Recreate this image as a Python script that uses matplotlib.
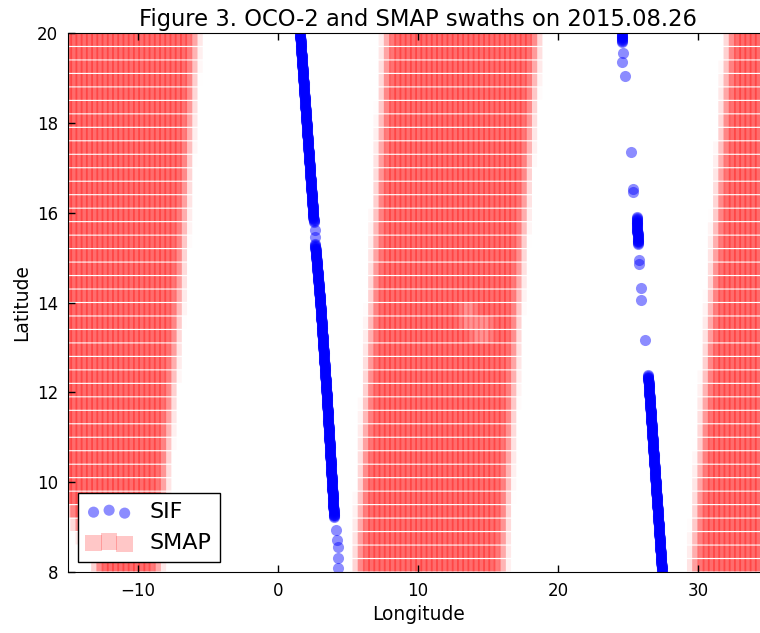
import numpy as np
import matplotlib
matplotlib.use('Agg')
import matplotlib.pyplot as plt

# SMAP cells sit on a 36 km EASE grid (deg spacing)
SMAP_DLON = 0.3733
SMAP_DLAT = 0.30
EDGE_FADE = 0.7   # soft swath border, deg

# swath edges (cell centres), at the given latitudes
swath1_lat = [8.0, 10.6, 14.0, 20.0]
swath1_west = [-12.3, -16.5, -17.0, -17.0]
swath1_east = [-9.0, -8.4, -7.5, -6.3]

swath2_lat = [8.0, 14.0, 20.0]
swath2_west = [6.1, 7.2, 8.2]
swath2_east = [15.6, 16.7, 18.1]

swath3_lat = [8.0, 20.0]
swath3_west = [30.1, 32.7]
swath3_east = [45.0, 45.0]

# thinner patch inside swath 2 (lon0, lon1, lat0, lat1)
smap_thin = [(12.9, 14.3, 13.3, 14.1), (13.7, 15.2, 13.1, 13.6)]

# OCO-2 SIF: dense stretches of soundings (lon0, lat0, lon1, lat1)
sif_segments = [
    (1.57, 20.0, 2.55, 15.8),
    (2.65, 15.3, 3.00, 14.06),
    (3.00, 14.06, 3.50, 11.83),
    (3.50, 11.83, 4.00, 9.22),
    (24.55, 20.0, 24.58, 19.8),
    (25.62, 15.9, 25.72, 15.3),
    (26.43, 12.39, 27.43, 8.0),
]
# single soundings
sif_lon = [2.62, 2.65, 4.12, 4.20, 4.25, 4.28, 4.30,
           24.64, 24.60, 24.79, 25.21, 25.36, 25.38, 25.80, 25.82, 25.93, 25.93, 26.21]
sif_lat = [15.62, 15.45, 8.93, 8.72, 8.56, 8.31, 8.10,
           19.55, 19.35, 19.04, 17.35, 16.52, 16.45, 14.95, 14.85, 14.32, 14.06, 13.17]


def swath_cells(lats, west, east):
    rows = np.arange(7.85, 20.3, SMAP_DLAT)
    cols = np.arange(-20.0, 46.0, SMAP_DLON)
    xs, ys, ws = [], [], []
    for lat in rows:
        w = np.interp(lat, lats, west)
        e = np.interp(lat, lats, east)
        for lon in cols:
            inside = min(lon - w, e - lon)
            if inside < -EDGE_FADE:
                continue
            weight = min(1.0, 1.0 + inside / EDGE_FADE)
            for (a, b, c, d) in smap_thin:
                if a <= lon <= b and c <= lat <= d:
                    weight = 0.7
            xs.append(lon)
            ys.append(lat)
            ws.append(weight)
    return xs, ys, ws


smap_x, smap_y, smap_w = [], [], []
for lats, west, east in [(swath1_lat, swath1_west, swath1_east),
                         (swath2_lat, swath2_west, swath2_east),
                         (swath3_lat, swath3_west, swath3_east)]:
    xs, ys, ws = swath_cells(lats, west, east)
    smap_x += xs
    smap_y += ys
    smap_w += ws

smap_rgba = np.zeros((len(smap_w), 4))
smap_rgba[:, 0] = 1.0
smap_rgba[:, 3] = 0.35 * np.array(smap_w)

sif_x, sif_y = list(sif_lon), list(sif_lat)
for lon0, lat0, lon1, lat1 in sif_segments:
    n = int(abs(lat1 - lat0) / 0.02) + 2
    sif_x += list(np.linspace(lon0, lon1, n))
    sif_y += list(np.linspace(lat0, lat1, n))

fig = plt.figure(figsize=(7.6, 6.33), dpi=100)
ax = fig.add_axes([68 / 760, 61 / 633, 700 / 760, 539 / 633])

smap = ax.scatter(smap_x, smap_y, s=78, marker='s', c=smap_rgba,
                  linewidths=0, zorder=1)
smap.set_snap(False)
sif = ax.scatter(sif_x, sif_y, s=64, marker='o', c='blue', alpha=0.45,
                 linewidths=0, zorder=2)

# legend proxy for the swath cells (plain alpha, no edge fading)
smap_proxy = ax.scatter([], [], s=140, marker='s', c='red', alpha=0.22, linewidths=0)

ax.set_xlim(-15, 35)
ax.set_ylim(8, 20)
ax.set_xticks([-10, 0, 10, 20, 30])
ax.set_yticks([8, 10, 12, 14, 16, 18, 20])
ax.tick_params(direction='in', top=True, right=True, length=5, width=1,
               labelsize=12, pad=7)
ax.set_xlabel('Longitude', fontsize=13.4)
ax.set_ylabel('Latitude', fontsize=13.4)
ax.set_title('Figure 3. OCO-2 and SMAP swaths on 2015.08.26', fontsize=16.3, pad=5)

leg = ax.legend([sif, smap_proxy], ['SIF', 'SMAP'], loc='lower left', scatterpoints=3,
                fontsize=16, fancybox=False, framealpha=1, edgecolor='black',
                borderaxespad=0.45)
leg.get_frame().set_linewidth(1.0)

fig.savefig('out.png', dpi=100)
